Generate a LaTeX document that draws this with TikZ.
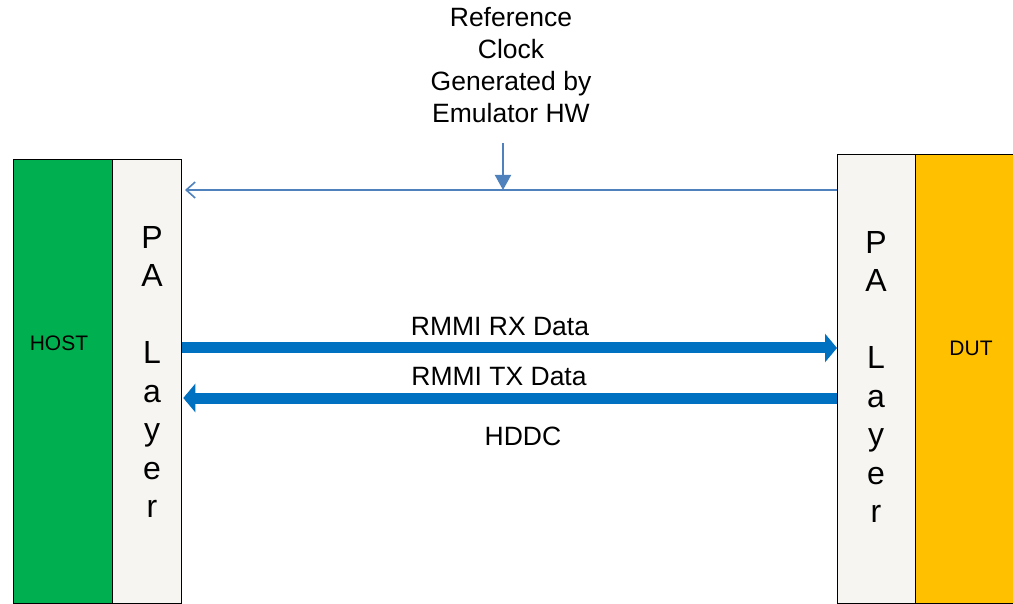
\documentclass[tikz,border=0pt]{standalone}
\usepackage{fontspec}
\setmainfont{Liberation Sans}
\usetikzlibrary{arrows.meta}
\definecolor{hostgreen}{HTML}{00B050}
\definecolor{pagray}{HTML}{F6F5F1}
\definecolor{dutyellow}{HTML}{FFC000}
\definecolor{busblue}{HTML}{0070C0}
\definecolor{clkblue}{HTML}{4F81BD}
\tikzset{
  blockbox/.style={draw=black, line width=1.3pt, inner sep=0pt, anchor=north west},
  bus/.style={busblue, line width=11pt, -{Triangle[length=12pt,width=28pt]}},
  clk/.style={clkblue, line width=2pt},
  lbl/.style={font=\fontsize{26.5}{31.7}\selectfont, align=center, inner sep=0pt},
  palbl/.style={font=\fontsize{32}{38.5}\selectfont, align=center, inner sep=0pt},
  sidelbl/.style={font=\fontsize{21}{25}\selectfont, inner sep=0pt}
}
\begin{document}
\begin{tikzpicture}[x=1pt,y=-1pt]
\useasboundingbox (0,0) rectangle (1013,604);
\begin{scope}
\clip (0,0) rectangle (1013,604);
% blocks
\node[blockbox, fill=hostgreen, minimum width=99pt, minimum height=444pt] (host) at (13,159) {};
\node[blockbox, fill=pagray, minimum width=69pt, minimum height=444pt] (lpa) at (112,159) {};
\node[blockbox, fill=pagray, minimum width=78pt, minimum height=449pt] (rpa) at (837,154) {};
\node[blockbox, fill=dutyellow, minimum width=100pt, minimum height=449pt] (dut) at (915,154) {};
\end{scope}
% labels in blocks
\node[sidelbl] (hostlbl) at (59,343) {HOST};
\node[sidelbl] (dutlbl) at (971,348) {DUT};
\node[palbl] (lpalbl) at (152,372) {P\\A\\[38.5pt]L\\a\\y\\e\\r};
\node[palbl] (rpalbl) at (876,377) {P\\A\\[38.5pt]L\\a\\y\\e\\r};
% reference clock
\node[lbl] (ref) at (511,65) {Reference\\Clock\\Generated by\\Emulator HW};
\coordinate (clksrc) at (503,143);
\coordinate (clkjoin) at (503,190);
\coordinate (clkend) at (185,190);
\draw[clk, -{Straight Barb[length=9pt,width=16pt,line width=1.6pt]}] (rpa.west |- clkjoin) -- (clkend);
\draw[clk, -{Triangle[length=15pt,width=16pt]}] (clksrc) -- (clkjoin);
% data buses
\coordinate (rxy) at (0,348);
\coordinate (txy) at (0,398);
\draw[bus] (lpa.east |- rxy) -- (rpa.west |- rxy);
\draw[bus] (rpa.west |- txy) -- ([xshift=1pt]lpa.east |- txy);
\node[lbl] (rxlbl) at (500,327) {RMMI RX Data};
\node[lbl] (txlbl) at (499,377) {RMMI TX Data};
\node[lbl] (hddc) at (523,436) {HDDC};
\end{tikzpicture}
\end{document}
